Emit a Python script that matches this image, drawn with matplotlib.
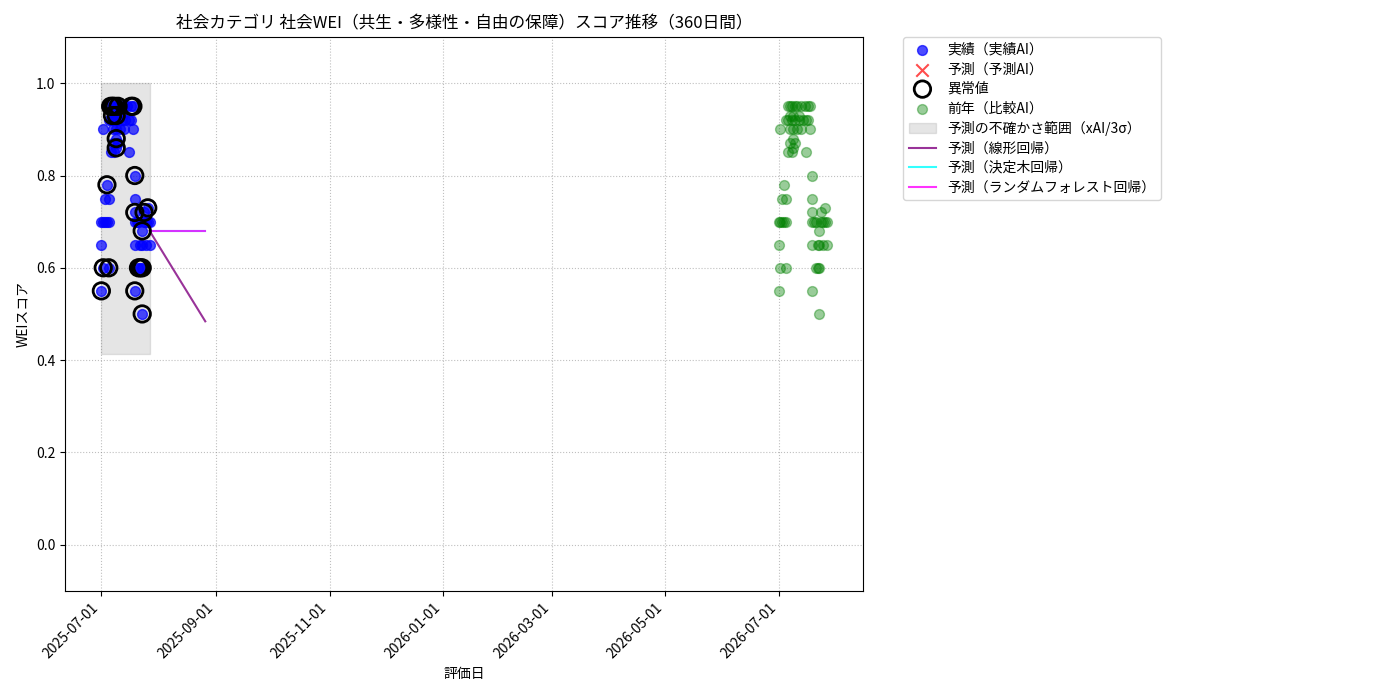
import matplotlib
matplotlib.use("Agg")
import matplotlib.pyplot as plt
import matplotlib.dates as mdates
import pandas as pd

plt.rcParams['font.family'] = ['Noto Sans CJK JP', 'DejaVu Sans']
plt.rcParams['axes.unicode_minus'] = False

# --- data ---
start_date = pd.Timestamp("2025-07-01")

actual_days = [0, 0, 0, 1, 1, 1, 2, 2, 3, 3, 4, 4, 4, 4,
               5, 5, 5, 6, 6, 6, 6, 7, 7, 7, 8, 8, 8, 8,
               9, 9, 9, 10, 10, 11, 11, 12, 12, 13, 14, 15, 15, 16, 16,
               17, 17, 18, 18, 18, 18, 18, 18, 19, 20, 20, 21, 21,
               22, 22, 22, 22, 23, 23, 24, 24, 25, 25, 26, 26]
actual_values = [0.70, 0.65, 0.55, 0.70, 0.60, 0.90, 0.75, 0.70, 0.78, 0.70, 0.75, 0.70, 0.60, 0.92,
                 0.95, 0.92, 0.85, 0.95, 0.93, 0.90, 0.87, 0.95, 0.92, 0.85, 0.93, 0.90, 0.88, 0.86,
                 0.95, 0.92, 0.87, 0.95, 0.90, 0.93, 0.92, 0.95, 0.90, 0.92, 0.95, 0.92, 0.85, 0.95, 0.92,
                 0.95, 0.90, 0.80, 0.75, 0.72, 0.70, 0.65, 0.55, 0.70, 0.70, 0.60, 0.65, 0.60,
                 0.65, 0.60, 0.50, 0.68, 0.72, 0.70, 0.70, 0.65, 0.73, 0.70, 0.70, 0.65]

anomaly_days = [0, 1, 3, 4, 5, 6, 7, 9, 16, 17, 6, 8, 8, 8,
                18, 18, 18, 20, 21, 22, 22, 22, 23, 25]
anomaly_values = [0.55, 0.60, 0.78, 0.60, 0.95, 0.95, 0.95, 0.95, 0.95, 0.95, 0.93, 0.93, 0.88, 0.86,
                  0.80, 0.72, 0.55, 0.60, 0.60, 0.60, 0.50, 0.68, 0.72, 0.73]

# previous year comparison (plotted one year later, same shape)
prev_days = [d + 365 for d in actual_days]
prev_values = list(actual_values)

# forecasts
pred_days = [26, 56]
pred_linear = [0.68, 0.484]
pred_tree = [0.68, 0.68]
pred_forest = [0.68, 0.68]

band_low = 0.414
band_high = 1.0


def to_dates(days):
    return [start_date + pd.Timedelta(days=d) for d in days]


fig = plt.figure(figsize=(14, 7), dpi=100)
ax = fig.add_axes([0.0465, 0.156, 0.57, 0.791])

ax.scatter(to_dates(actual_days), actual_values, color='blue', alpha=0.7, s=50,
           label='実績（実績AI）', zorder=3)
ax.scatter([], [], color='red', marker='x', alpha=0.7, s=80, label='予測（予測AI）')
ax.scatter(to_dates(anomaly_days), anomaly_values, facecolors='none', edgecolors='black',
           s=140, linewidths=2, label='異常値', zorder=4)
ax.scatter(to_dates(prev_days), prev_values, color='green', alpha=0.4, s=50,
           label='前年（比較AI）', zorder=3)

band_x = to_dates([min(actual_days), max(actual_days)])
ax.fill_between(band_x, band_low, band_high, color='gray', alpha=0.2,
                label='予測の不確かさ範囲（xAI/3σ）', zorder=1)

ax.plot(to_dates(pred_days), pred_linear, color='purple', alpha=0.8, label='予測（線形回帰）')
ax.plot(to_dates(pred_days), pred_tree, color='cyan', alpha=0.8, label='予測（決定木回帰）')
ax.plot(to_dates(pred_days), pred_forest, color='magenta', alpha=0.8, label='予測（ランダムフォレスト回帰）')

ax.set_ylim(-0.1, 1.1)
ax.xaxis.set_major_locator(mdates.MonthLocator(bymonth=[1, 3, 5, 7, 9, 11]))
ax.xaxis.set_major_formatter(mdates.DateFormatter('%Y-%m-%d'))
plt.setp(ax.get_xticklabels(), rotation=45, ha='right')

ax.grid(True, linestyle=':', color='gray', alpha=0.5)
ax.set_title('社会カテゴリ 社会WEI（共生・多様性・自由の保障）スコア推移（360日間）', fontsize=12)
ax.set_xlabel('評価日')
ax.set_ylabel('WEIスコア')
ax.legend(loc='upper left', bbox_to_anchor=(1.05, 1.0), borderaxespad=0., labelspacing=0.4)

fig.savefig('out.png', dpi=100)
